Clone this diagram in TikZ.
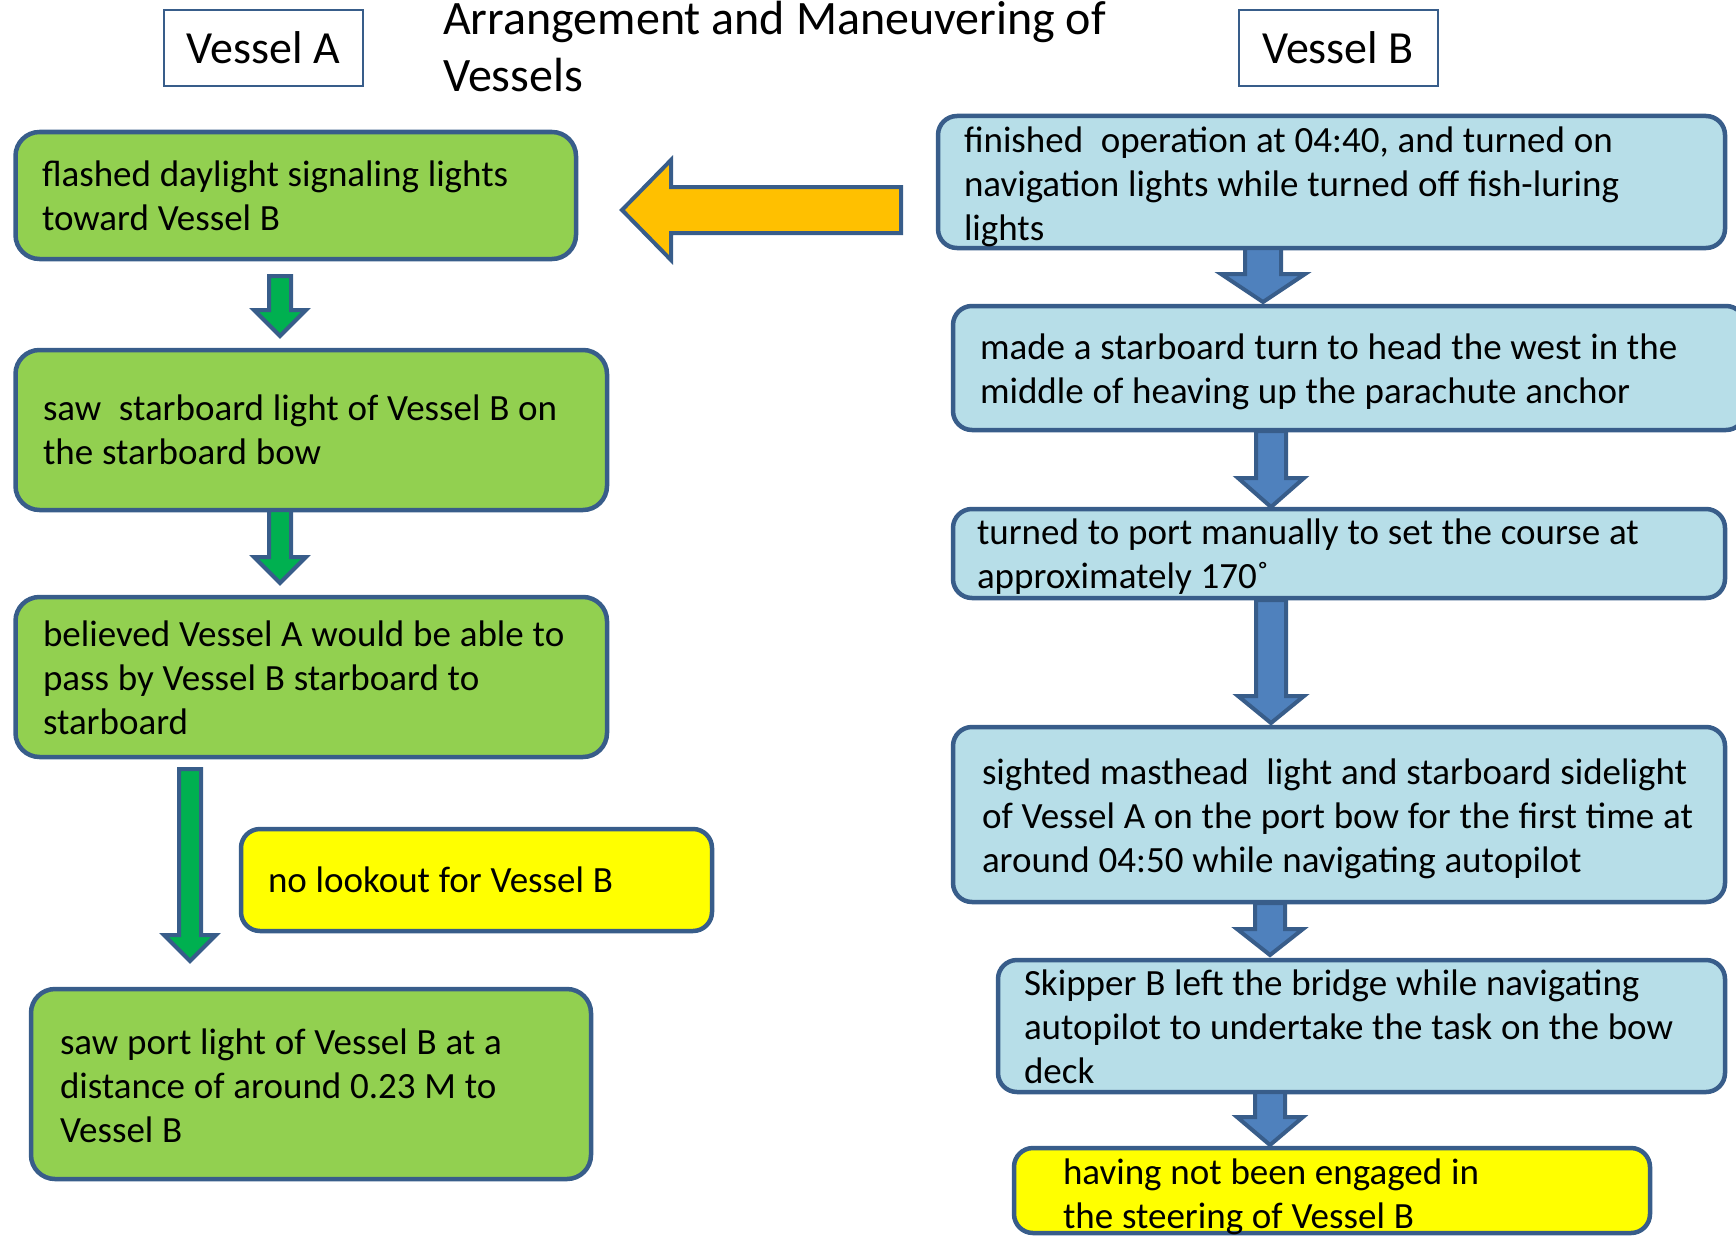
\documentclass[tikz,border=0pt]{standalone}
\usepackage{fontspec}
\setmainfont{Carlito}
\usetikzlibrary{calc}
\definecolor{bord}{HTML}{385D8A}
\definecolor{gfill}{HTML}{92D050}
\definecolor{garr}{HTML}{00B050}
\definecolor{bfill}{HTML}{B7DEE8}
\definecolor{barr}{HTML}{4F81BD}
\definecolor{yfill}{HTML}{FFFF00}
\definecolor{ofill}{HTML}{FFC000}
\def\txshift{0pt}
\newcommand\txl[1]{\raisebox{\txshift}[\height][\depth]{\spaceskip=8.8pt\relax #1}}
% #1 style, #2 start point, #3 end point, #4 shaft half, #5 head half, #6 head length
\newcommand\varrow[6]{%
  \draw[#1] let \p1=(#2), \p2=(#3) in
    (\x1-#4pt,\y1) -- (\x1+#4pt,\y1) -- (\x1+#4pt,\y2+#6pt) -- (\x1+#5pt,\y2+#6pt)
    -- (\x1,\y2) -- (\x1-#5pt,\y2+#6pt) -- (\x1-#4pt,\y2+#6pt) -- cycle;}
\begin{document}
\begin{tikzpicture}[x=1pt,y=-1pt,
  basebox/.style={draw=bord, line width=4.5pt, inner ysep=0pt, align=left,
    outer sep=0pt, font=\fontsize{37}{44}\selectfont},
  gbox/.style={basebox, fill=gfill, rounded corners=24pt},
  bbox/.style={basebox, fill=bfill, rounded corners=19pt},
  ybox/.style={basebox, fill=yfill, rounded corners=19pt},
  tshift/.style={execute at begin node={\def\txshift{#1}}},
  headbox/.style={draw=bord, line width=2pt, fill=white, minimum width=199pt,
    minimum height=76pt, inner sep=0pt, outer sep=0pt, font=\fontsize{46}{55}\selectfont},
  garrow/.style={draw=bord, line width=4pt, fill=garr},
  barrow/.style={draw=bord, line width=4pt, fill=barr},
  oarrow/.style={draw=bord, line width=4pt, fill=ofill}]
\useasboundingbox (0,0) rectangle (1736,1236);
\clip (0,0) rectangle (1736,1236);

% headers
\node[headbox] (va) at (263.5,48) {Vessel A};
\node[headbox] (vb) at (1338,48) {Vessel B};
\node[anchor=west, align=left, inner sep=0pt, font=\fontsize{48}{57}\selectfont]
  (title) at (443,47) {Arrangement and Maneuvering of\\Vessels};

% Vessel A column
\node[gbox, text width=507.5pt, inner xsep=26.5pt, minimum height=127pt] (g1) at (295.75,195.5)
  {\txl{flashed daylight signaling lights}\\\txl{toward Vessel B}};
\node[gbox, text width=536.5pt, inner xsep=27.5pt, minimum height=160pt] (g2) at (311.25,430)
  {\txl{saw\ \ starboard light of Vessel B on}\\\txl{the starboard bow}};
\node[gbox, tshift=-1pt, text width=536.5pt, inner xsep=27.5pt, minimum height=160pt] (g3) at (311.25,677)
  {\txl{believed Vessel A would be able to}\\\txl{pass by Vessel B starboard to}\\\txl{starboard}};
\node[ybox, text width=417pt, inner xsep=27pt, minimum height=102pt] (y1) at (476.5,880)
  {\txl{no lookout for Vessel B}};
\node[gbox, tshift=-1.5pt, text width=502pt, inner xsep=29pt, minimum height=190pt] (g4) at (311,1084)
  {\txl{saw port light of Vessel B at a}\\\txl{distance of around 0.23 M to}\\\txl{Vessel B}};

% Vessel B column
\node[bbox, tshift=-4.5pt, text width=735pt, inner xsep=26pt, minimum height=132pt] (b1) at (1331.5,182)
  {\txl{finished\ \ operation at 04:40, and turned on}\\\txl{navigation lights while turned off fish-luring}\\\txl{lights}};
\node[bbox, tshift=-3.5pt, text width=738pt, inner xsep=27pt, minimum height=124pt] (b2) at (1349,368)
  {\txl{made a starboard turn to head the west in the}\\\txl{middle of heaving up the parachute anchor}};
\node[bbox, tshift=-3.5pt, text width=724pt, inner xsep=24pt, minimum height=89pt] (b3) at (1339,553.5)
  {\txl{turned to port manually to set the course at}\\\txl{approximately 170˚}};
\node[bbox, tshift=-4pt, text width=714pt, inner xsep=29pt, minimum height=175pt] (b4) at (1339,814.5)
  {\txl{sighted masthead\ \ light and starboard sidelight}\\\txl{of Vessel A on the port bow for the first time at}\\\txl{around 04:50 while navigating autopilot}};
\node[bbox, tshift=-0.5pt, text width=675pt, inner xsep=26pt, minimum height=132pt] (b5) at (1361.5,1026)
  {\txl{Skipper B left the bridge while navigating}\\\txl{autopilot to undertake the task on the bow}\\\txl{deck}};
\node[ybox, tshift=-6pt, text width=538pt, inner xsep=49pt, minimum height=85pt] (y2) at (1332,1190.5)
  {\txl{having not been engaged in}\\\txl{the steering of Vessel B}};

% green arrows
\varrow{garrow}{$(g1.south)+(-15.75,17)$}{$(g2.north)+(0,-14)$}{11}{26}{26}
\varrow{garrow}{$(g2.south)+(-31.25,0)$}{$(g3.north)+(0,-14)$}{11}{26}{26}
\varrow{garrow}{$(g3.south)+(-121.25,12)$}{$(g4.north)+(0,-28)$}{11}{26}{26}

% blue arrows
\varrow{barrow}{$(b1.south)+(-68.5,0)$}{$(b2.north)+(0,-4)$}{18}{42}{28}
\varrow{barrow}{$(b2.south)+(-78,1)$}{$(b3.north)+(0,-2)$}{15}{33}{29}
\varrow{barrow}{$(b3.south)+(-68,2)$}{$(b4.north)+(0,-4)$}{15}{33}{27}
\varrow{barrow}{$(b4.south)+(-69,1)$}{$(b5.north)+(0,-5)$}{15}{33}{26}
\varrow{barrow}{$(b5.south)+(-91.5,0)$}{$(y2.north)+(0,-3)$}{15}{33}{28}

% orange arrow from Vessel B to Vessel A
\draw[oarrow] let \p1=($(b1.west)+(-37,28)$), \p2=($(g1.east)+(46,14.5)$) in
  (\x1,\y1+23pt) -- (\x2+49pt,\y1+23pt) -- (\x2+49pt,\y1+50pt) -- (\x2,\y1)
  -- (\x2+49pt,\y1-50pt) -- (\x2+49pt,\y1-23pt) -- (\x1,\y1-23pt) -- cycle;
\end{tikzpicture}
\end{document}
